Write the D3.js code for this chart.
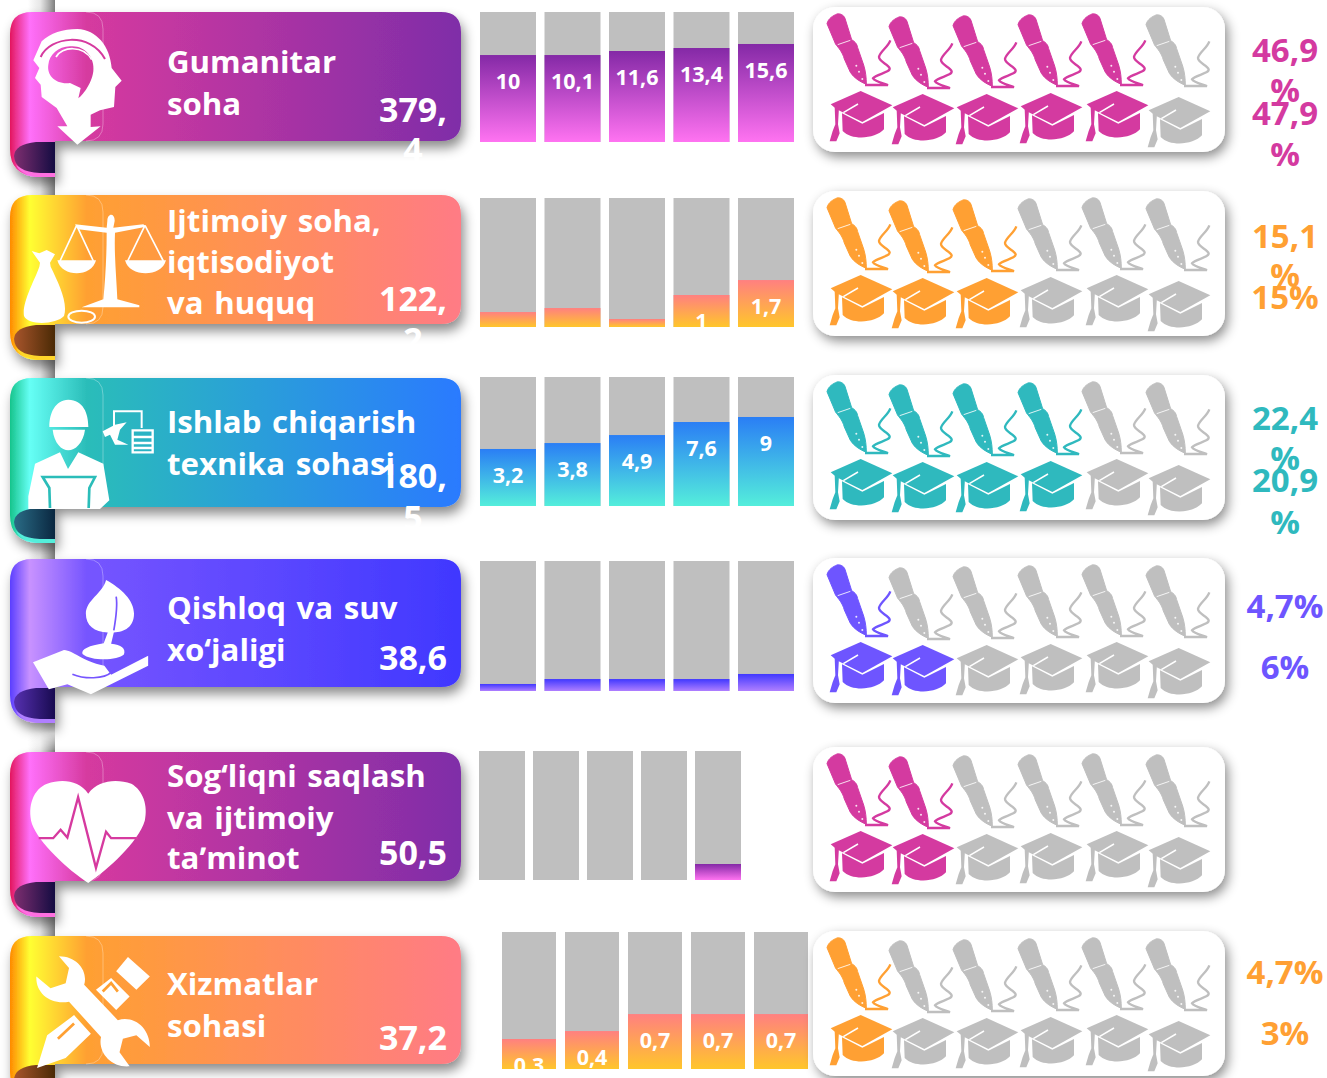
<!DOCTYPE html>
<html><head><meta charset="utf-8">
<script src="https://cdnjs.cloudflare.com/ajax/libs/d3/7.8.5/d3.min.js"></script>
<style>html,body{margin:0;padding:0;background:#fff;overflow:hidden}svg{display:block}text{font-family:"Open Sans","Noto Sans",sans-serif}</style>
</head><body><svg id="c" width="1327" height="1078"></svg>
<script>
// ---------- data ----------
const categories = [
  ["Gumanitar","soha"],
  ["Ijtimoiy soha,","iqtisodiyot","va huquq"],
  ["Ishlab chiqarish","texnika sohasi"],
  ["Qishloq va suv","xo‘jaligi"],
  ["Sog‘liqni saqlash","va ijtimoiy","taʼminot"],
  ["Xizmatlar","sohasi"]
];
const totals = [["379,","4"],["122,","2"],["180,","5"],["38,6"],["50,5"],["37,2"]];
const barFill = [
  [66.9,66.9,70,72.3,75.4],
  [11.6,14.7,6.2,24.8,36.4],
  [44.2,48.8,55,65.1,69],
  [5.4,9.2,9.2,9.2,13.1],
  [0,0,0,0,12.4],
  [21.9,27.7,40.1,40.1,40.1]
];
const barLabels = [
  ["10","10,1","11,6","13,4","15,6"],
  ["","","","1","1,7"],
  ["3,2","3,8","4,9","7,6","9"],
  ["","","","",""],
  ["","","","",""],
  ["0,3","0,4","0,7","0,7","0,7"]
];
const penCount = [5,3,4,1,2,1];
const capCount = [5,3,4,2,2,1];
const penPct = [["46,9","%"],["15,1","%"],["22,4","%"],["4,7%"],[],["4,7%"]];
const capPct = [["47,9","%"],["15%"],["20,9","%"],["6%"],[],["3%"]];
// ---------- themes & layout ----------
const theme = {
  m:{main:["#E3175E","#FF70FA","#D63A9F","#7F2DA8"],bar:["#8429A6","#FF73F1"],curl:["#7E2E70","#140C42"],edge:"#FF6FE0",ink:"#D43AA0"},
  o:{main:["#FF8A00","#FFFF33","#FFA032","#FF7B85"],bar:["#FF8080","#FFC62B"],curl:["#A8552C","#4A2A05"],edge:"#FFD52A",ink:"#FFA033"},
  t:{main:["#16C48C","#66FFF5","#2BBDB9","#2A7AFF"],bar:["#2A7EF5","#54EEDB"],curl:["#2A6C86","#0A2740"],edge:"#54EEDB",ink:"#2FB9BE"},
  p:{main:["#5A3EFF","#C892FF","#7655FF","#4038FF"],bar:["#4038FF","#B07FFF"],curl:["#5630B0","#180A50"],edge:"#B07FFF",ink:"#6E55FF"}
};
const layout = [
  {th:"m",top:12,bottom:141,card:7,gray:12,base:142,x:[480,794],pi:.132,lineY:[73,115],totalY:[122,162],penY:[62,102],capY:[125,166]},
  {th:"o",top:195,bottom:324,card:191,gray:198,base:327,x:[480,794],pi:.132,lineY:[232,273,314],totalY:[311,352],penY:[248,287],capY:[309]},
  {th:"t",top:378,bottom:507,card:375,gray:377,base:506,x:[480,794],pi:.132,lineY:[433,475],totalY:[488,530],penY:[430,470],capY:[492,534]},
  {th:"p",top:559,bottom:687,card:558,gray:561,base:691,x:[480,794],pi:.132,lineY:[619,661],totalY:[670],penY:[618],capY:[679]},
  {th:"m",top:752,bottom:881,card:747,gray:751,base:880,x:[479,741],pi:.148,lineY:[787,829,869],totalY:[865],penY:[],capY:[]},
  {th:"o",top:936,bottom:1064,card:931,gray:932,base:1069,x:[502,808],pi:.143,lineY:[995,1037],totalY:[1050],penY:[984],capY:[1045]}
];
const penSlots = [827,889,953,1018,1082,1146], penJit=[7,10,9,8,7,8];
const capSlots = [830,892,956,1020,1086,1148], capJit=[84,87,87,86,84,90];

const svg = d3.select("#c");
const defs = svg.append("defs");
function shadow(id,dx,dy,sd,op){
  const f=defs.append("filter").attr("id",id).attr("x","-10%").attr("y","-30%").attr("width","125%").attr("height","170%");
  f.append("feDropShadow").attr("dx",dx).attr("dy",dy).attr("stdDeviation",sd).attr("flood-color","#000").attr("flood-opacity",op);
}
shadow("sRib",3,7,6,.45); shadow("sCard",3,5,6,.45);
const grad=(id,o,stops)=>{const g=defs.append("linearGradient").attr("id",id).attr("gradientUnits",o.u||"objectBoundingBox")
  .attr("x1",o.x1).attr("x2",o.x2).attr("y1",o.y1).attr("y2",o.y2);
  stops.forEach(s=>g.append("stop").attr("offset",s[0]).attr("stop-color",s[1]).attr("stop-opacity",s[2]===undefined?1:s[2]));};
Object.entries(theme).forEach(([k,t])=>{
  grad("main"+k,{u:"userSpaceOnUse",x1:10,x2:461,y1:0,y2:0},[[0,t.main[0]],[.044,t.main[1]],[.17,t.main[2]],[1,t.main[3]]]);
  grad("bar"+k,{x1:0,x2:0,y1:0,y2:1},[[0,t.bar[0]],[1,t.bar[1]]]);
  grad("curl"+k,{x1:0,x2:1,y1:0,y2:0},[[0,t.curl[0]],[1,t.curl[1]]]);
});
grad("band",{x1:0,x2:1,y1:0,y2:0},[[0,"#777",0],[.45,"#888",.2],[1,"#777",.95]]);
svg.append("rect").attr("width",1327).attr("height",1078).attr("fill","#fff");
svg.append("rect").attr("x",28).attr("y",0).attr("width",27).attr("height",1078).attr("fill","url(#band)");
[[708,42]].forEach(d=>{ // faded gap between the lower ribbons
  grad("gapfade",{x1:0,x2:0,y1:0,y2:1},[[0,"#fff",0],[.6,"#fff",.75],[1,"#fff",.1]]);
  svg.append("rect").attr("x",28).attr("y",d[0]).attr("width",27).attr("height",d[1]).attr("fill","url(#gapfade)");
});

// ---------- icon shapes (3x drawing space) ----------
const PEN="M22,44 C26,28 40,20 52,15 C62,13 72,18 76,28 L96,92 C106,98 112,104 114,116 L132,168 C138,188 140,205 140,226 C120,218 102,206 92,190 L74,150 C68,128 56,116 48,106 Z";
const SQUIG="M136,228 L205,228 C190,222 165,218 160,208 C170,196 212,190 210,178 C206,166 178,158 178,144 C180,128 205,115 212,94";
const CAPTOP="M30,285 L120,245 L215,288 L125,338 L60,306 L48,300 Z";
const CAPBASE="M64,312 L125,343 L190,311 L190,360 C165,388 95,395 66,365 Z";
const TASSEL="M42,292 L55,294 L52,345 L57,372 L47,396 L27,396 L36,365 L44,345 Z";
function pen(g,x,y,c){
  const a=g.append("g").attr("transform",`translate(${x},${y}) scale(.3333) translate(-22,-15)`);
  a.append("path").attr("d",SQUIG).attr("fill","none").attr("stroke",c).attr("stroke-width",7);
  a.append("path").attr("d",PEN).attr("fill",c).attr("stroke",c).attr("stroke-width",3);
  a.append("path").attr("d","M54,107 L92,94").attr("stroke","#fff").attr("stroke-width",2.5);
  [[110,170],[118,188],[128,210]].forEach(p=>a.append("circle").attr("cx",p[0]).attr("cy",p[1]).attr("r",3).attr("fill","#fff").attr("opacity",.85));
}
function cap(g,x,y,c){
  const a=g.append("g").attr("transform",`translate(${x},${y}) scale(.3333) translate(-28,-245)`);
  [CAPTOP,CAPBASE,TASSEL].forEach(d=>a.append("path").attr("d",d).attr("fill",c));
  a.append("path").attr("d","M68,310 L112,284").attr("stroke","#fff").attr("stroke-width",4.5);
}
// ---------- ribbon glyphs, in 3x zoom space ----------
const W="#fff";
const glyphs = [
 (g,mid)=>{g.append("path").attr("fill-rule","evenodd").attr("fill",W).attr("d","M232,88 C290,90 330,140 335,205 L365,243 L346,262 L342,322 L300,332 L272,345 L272,382 L302,380 L232,435 L172,380 L202,380 L170,325 L125,292 L122,255 L105,235 L118,205 L100,182 L125,125 C150,100 190,88 232,88 Z M210,140 C250,135 285,170 280,215 C275,255 245,290 235,296 L242,265 L210,250 C165,255 140,225 145,195 C148,165 175,140 210,140 Z");
   g.append("path").attr("d","M122,172 C150,110 270,95 315,178").attr("fill","none").attr("stroke",mid).attr("stroke-width",6);
   g.append("path").attr("d","M168,172 C185,140 250,135 275,180").attr("fill","none").attr("stroke",W).attr("stroke-width",5);},
 (g,mid)=>{g.append("path").attr("fill",W).attr("d","M322,125 C322,100 345,100 344,125 L340,145 L430,135 L438,142 L345,160 C342,230 350,300 352,360 L418,378 L418,384 L245,384 L310,360 C316,300 320,230 320,160 L235,150 L225,135 L320,145 Z");
   [[230,175,285],[435,378,495]].forEach(p=>{g.append("path").attr("fill","none").attr("stroke",W).attr("stroke-width",5).attr("d",`M${p[0]},138 L${p[1]+5},245 M${p[0]},138 L${p[2]-5},245`);
     g.append("path").attr("fill",W).attr("d",`M${p[1]-3},243 L${p[2]+3},243 C${p[2]-10},295 ${p[1]+10},295 ${p[1]-3},243 Z`);});
   g.append("path").attr("fill",W).attr("d","M95,215 L118,222 L140,212 L165,225 L150,250 L152,262 C175,310 205,370 192,410 C170,435 85,440 72,410 C65,370 105,300 118,262 L120,250 Z");
   g.append("ellipse").attr("cx",245).attr("cy",412).attr("rx",40).attr("ry",18).attr("fill","none").attr("stroke",W).attr("stroke-width",6);},
 (g,mid)=>{g.append("path").attr("fill",W).attr("d","M205,660 C250,662 265,700 265,742 L148,742 C148,700 165,662 205,660 Z M158,750 L255,750 C250,790 225,812 205,812 C185,812 162,790 158,750 Z M85,950 L105,852 L180,818 L204,868 L235,818 L310,852 L328,962 L300,988 L85,988 Z");
   g.append("path").attr("fill","none").attr("stroke",mid).attr("stroke-width",8).attr("d","M150,985 L148,925 L128,892 L285,892 L268,925 L266,985");
   g.append("path").attr("fill","none").attr("stroke",W).attr("stroke-width",6).attr("d","M342,745 L342,695 L425,695 L425,745");
   g.append("path").attr("fill","none").attr("stroke",W).attr("stroke-width",7).attr("d","M398,752 H458 V818 H398 Z M398,772 H458 M398,790 H458 M398,805 H458");
   g.append("path").attr("fill",W).attr("d","M308,755 L345,735 L380,728 L360,750 L352,780 L385,795 L345,795 L330,765 L315,772 Z");},
 (g,mid)=>{g.append("path").attr("fill",W).attr("d","M315,90 C360,115 398,150 398,190 C398,230 370,245 338,246 L330,280 C360,282 375,295 368,312 C350,330 270,332 245,310 C240,295 265,285 308,278 L320,246 C280,246 255,225 255,190 C255,150 305,130 315,90 Z M98,335 L190,298 C220,300 240,330 310,345 L330,372 L440,315 L440,345 L270,430 L200,400 L145,415 Z");
   g.append("path").attr("fill","none").attr("stroke",mid).attr("stroke-width",5).attr("d","M215,370 C250,385 310,385 330,365 M345,140 C350,170 345,200 338,240");},
 (g,mid)=>{g.append("path").attr("fill",W).attr("d","M262,725 C290,685 345,680 390,695 C425,715 440,760 430,805 C410,870 320,950 262,990 C200,950 115,870 95,815 C80,760 100,710 140,695 C185,680 235,685 262,725 Z");
   g.append("path").attr("fill","none").attr("stroke",mid).attr("stroke-width",7).attr("d","M115,857 L158,857 L180,832 L200,855 L232,735 L285,945 L315,838 L330,857 L410,857");},
 (g,mid)=>{g.append("path").attr("fill",W).attr("d","M175,1205 C230,1205 262,1250 250,1290 L350,1395 C400,1380 445,1420 445,1475 L405,1440 L365,1450 L355,1490 L385,1532 C330,1537 290,1490 300,1445 L205,1340 C150,1350 105,1315 108,1265 L150,1300 L195,1285 L205,1240 Z M110,1537 L140,1440 L220,1380 L270,1435 L195,1507 Z M380,1207 L445,1265 L405,1305 L345,1250 Z M285,1305 L330,1270 L385,1325 L345,1365 Z");
   g.append("path").attr("fill","none").attr("stroke",mid).attr("stroke-width",8).attr("d","M172,1450 L220,1405 M305,1310 L330,1285 L350,1310");}
];
const glyphTop=[37,47,595,28,601,1145], glyphScale=[1/3,1/3,1/3,1/2.97,1/2.97,1/2.97];

// ---------- rows ----------
layout.forEach((L,i)=>{
  const t=theme[L.th], g=svg.append("g");
  const rib=g.append("g").attr("filter","url(#sRib)");
  rib.append("path").attr("fill","url(#main"+L.th+")").attr("d",
    `M10,${L.top+22} Q10,${L.top} 32,${L.top} H441 Q461,${L.top} 461,${L.top+20} V${L.bottom-20} Q461,${L.bottom} 441,${L.bottom} H55 V${L.bottom+36} H37 Q10,${L.bottom+34} 10,${L.bottom+8} Z`);
  g.append("path").attr("fill",t.edge).attr("d",`M55,${L.bottom+32} H40 Q24,${L.bottom+31} 16,${L.bottom+24} Q20,${L.bottom+33} 38,${L.bottom+36} H55 Z`);
  g.append("path").attr("fill","url(#curl"+L.th+")").attr("d",`M55,${L.bottom+1} H36 Q15,${L.bottom+3} 14,${L.bottom+15} Q15,${L.bottom+31} 40,${L.bottom+32} H55 Z`);
  g.append("path").attr("fill","none").attr("stroke","#fff").attr("stroke-opacity",.45).attr("stroke-width",.7)
    .attr("d",`M86,${L.top} Q103,${L.top} 103,${L.top+17} V${L.bottom-17} Q103,${L.bottom} 86,${L.bottom}`);
  const gl=g.append("g").attr("transform",`translate(0,${L.top}) scale(${glyphScale[i]}) translate(0,${-glyphTop[i]})`);
  glyphs[i](gl,t.main[2]);
  const cx=g.append("text").attr("font-size",31.2).attr("font-weight",700).attr("fill","#fff").attr("word-spacing",2.5);
  categories[i].forEach((s,k)=>cx.append("tspan").attr("x",167).attr("y",L.lineY[k]).text(s));
  const tot=g.append("text").attr("font-size",34).attr("font-weight",700).attr("fill","#fff").attr("text-anchor","middle");
  totals[i].forEach((s,k)=>tot.append("tspan").attr("x",413).attr("y",L.totalY[k]).text(s));
  // bars
  const x=d3.scaleBand().domain(d3.range(5)).range(L.x).paddingInner(L.pi);
  const y=d3.scaleLinear().domain([0,100]).range([L.base,L.gray]);
  const clip="clip"+i;
  defs.append("clipPath").attr("id",clip).append("rect").attr("x",L.x[0]-5).attr("y",L.gray).attr("width",L.x[1]-L.x[0]+10).attr("height",L.base-L.gray);
  const bars=g.append("g");
  bars.selectAll(".bg").data(barFill[i]).join("rect").attr("x",(d,k)=>x(k)).attr("width",x.bandwidth()).attr("y",L.gray).attr("height",L.base-L.gray).attr("fill","#BFBFBF");
  bars.selectAll(".fg").data(barFill[i]).join("rect").attr("x",(d,k)=>x(k)).attr("width",x.bandwidth()).attr("y",d=>y(d)).attr("height",d=>y(0)-y(d)).attr("fill","url(#bar"+L.th+")");
  g.append("g").attr("clip-path","url(#"+clip+")").selectAll("text").data(barFill[i]).join("text")
    .attr("x",(d,k)=>x(k)+x.bandwidth()/2).attr("y",d=>y(d)+34).attr("text-anchor","middle")
    .attr("font-size",21.5).attr("font-weight",700).attr("fill","#fff").text((d,k)=>barLabels[i][k]);
  // card
  g.append("rect").attr("x",813).attr("y",L.card).attr("width",412).attr("height",145).attr("rx",22).attr("fill","#fff").attr("filter","url(#sCard)");
  penSlots.forEach((px,k)=>pen(g,px,L.card+penJit[k],k<penCount[i]?t.ink:"#BFBFBF"));
  capSlots.forEach((px,k)=>cap(g,px,L.card+capJit[k],k<capCount[i]?t.ink:"#BFBFBF"));
  const pct=(arr,ys)=>{const e=g.append("text").attr("font-size",33).attr("font-weight",700).attr("fill",t.ink).attr("text-anchor","middle");
    arr.forEach((s,k)=>e.append("tspan").attr("x",1285).attr("y",ys[k]).text(s));};
  pct(penPct[i],L.penY); pct(capPct[i],L.capY);
});
</script></body></html>
